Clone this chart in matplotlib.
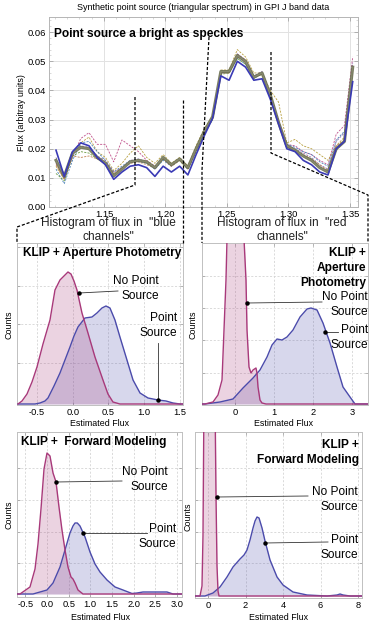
import numpy as np
import matplotlib.pyplot as plt
from matplotlib.lines import Line2D
from matplotlib.ticker import MultipleLocator, FormatStrFormatter

plt.rcParams['font.family'] = ['Liberation Sans', 'DejaVu Sans']
plt.rcParams['axes.unicode_minus'] = True

W, H = 374, 628

# ---- spectra (GPI J band channels) ----
wavelength = [1.1110, 1.1177, 1.1244, 1.1311, 1.1378, 1.1445, 1.1512, 1.1579, 1.1646,
              1.1713, 1.1780, 1.1847, 1.1914, 1.1981, 1.2048, 1.2115, 1.2182, 1.2249,
              1.2316, 1.2383, 1.2450, 1.2517, 1.2584, 1.2651, 1.2718, 1.2785, 1.2852,
              1.2919, 1.2986, 1.3053, 1.3120, 1.3187, 1.3254, 1.3321, 1.3388, 1.3455,
              1.3522]

true_flux = [0.0195, 0.0105, 0.019, 0.022, 0.021, 0.017, 0.0145, 0.0095, 0.012, 0.014,
             0.0145, 0.0135, 0.0105, 0.014, 0.012, 0.014, 0.011, 0.018, 0.0245, 0.0305,
             0.045, 0.0435, 0.050, 0.048, 0.0435, 0.044, 0.037, 0.0285, 0.020, 0.019,
             0.016, 0.0145, 0.012, 0.011, 0.020, 0.0225, 0.043]

mean_flux = [0.016, 0.0105, 0.0185, 0.0205, 0.020, 0.017, 0.015, 0.0107, 0.013, 0.0155,
             0.016, 0.0155, 0.0135, 0.017, 0.0145, 0.0165, 0.0135, 0.020, 0.026, 0.031,
             0.0465, 0.0465, 0.052, 0.050, 0.0445, 0.046, 0.0385, 0.029, 0.021, 0.0195,
             0.0175, 0.016, 0.0135, 0.012, 0.020, 0.0225, 0.048]

flux_magenta = [0.015, 0.010, 0.017, 0.0235, 0.0255, 0.0215, 0.0215, 0.0155, 0.023, 0.021,
                0.019, 0.016, 0.014, 0.0165, 0.0145, 0.016, 0.014, 0.020, 0.026, 0.030,
                0.046, 0.046, 0.0525, 0.0505, 0.045, 0.0455, 0.039, 0.030, 0.0215, 0.021,
                0.019, 0.018, 0.016, 0.0145, 0.025, 0.028, 0.0515]
flux_olive = [0.014, 0.0095, 0.018, 0.022, 0.024, 0.019, 0.017, 0.0125, 0.015, 0.0185,
              0.021, 0.017, 0.015, 0.018, 0.015, 0.017, 0.014, 0.021, 0.027, 0.031,
              0.047, 0.047, 0.054, 0.0515, 0.046, 0.046, 0.040, 0.036, 0.022, 0.0232,
              0.021, 0.020, 0.018, 0.016, 0.021, 0.024, 0.049]
flux_teal = [0.013, 0.008, 0.016, 0.022, 0.0225, 0.019, 0.016, 0.012, 0.014, 0.016,
             0.0155, 0.015, 0.013, 0.016, 0.014, 0.016, 0.013, 0.019, 0.025, 0.030,
             0.046, 0.046, 0.051, 0.049, 0.044, 0.046, 0.038, 0.029, 0.0215, 0.0205,
             0.019, 0.018, 0.0155, 0.014, 0.023, 0.026, 0.046]
flux_green = [0.0115, 0.009, 0.0175, 0.019, 0.0185, 0.0165, 0.015, 0.011, 0.0135, 0.0155,
              0.016, 0.015, 0.0135, 0.0165, 0.0145, 0.016, 0.013, 0.0195, 0.025, 0.030,
              0.0455, 0.046, 0.051, 0.049, 0.0445, 0.0455, 0.038, 0.0285, 0.0205, 0.0195,
              0.0175, 0.0165, 0.0135, 0.012, 0.0195, 0.0225, 0.047]
flux_purple = [0.017, 0.0095, 0.0185, 0.021, 0.0205, 0.0175, 0.016, 0.012, 0.0135, 0.016,
               0.0165, 0.0155, 0.013, 0.0165, 0.014, 0.0165, 0.0135, 0.020, 0.026, 0.0305,
               0.046, 0.0465, 0.0525, 0.050, 0.045, 0.0465, 0.039, 0.0295, 0.0215, 0.020,
               0.0185, 0.017, 0.0145, 0.013, 0.0225, 0.0255, 0.0495]
flux_orange = [0.0145, 0.0095, 0.0175, 0.017, 0.0175, 0.0165, 0.0155, 0.0115, 0.0135, 0.015,
               0.0155, 0.0145, 0.0135, 0.0165, 0.014, 0.016, 0.013, 0.0195, 0.0255, 0.0305,
               0.046, 0.046, 0.0515, 0.0495, 0.0445, 0.0455, 0.038, 0.0285, 0.0205, 0.0195,
               0.018, 0.0165, 0.0145, 0.0125, 0.021, 0.023, 0.047]

dashed_series = [(flux_magenta, '#c0508a'), (flux_olive, '#b8a040'), (flux_teal, '#4a82b8'),
                 (flux_green, '#6a9a40'), (flux_purple, '#8a70b0'), (flux_orange, '#c08050')]

# ---- flux distributions (counts, arbitrary units) ----
# KLIP + aperture photometry, blue channels
ap_blue_x_nops = [-0.766, -0.710, -0.640, -0.570, -0.500, -0.416, -0.318, -0.248, -0.178,
                  -0.108, -0.066, -0.024, 0.018, 0.060, 0.130, 0.214, 0.312, 0.424, 0.494,
                  0.564, 0.662, 1.545]
ap_blue_y_nops = [0, 3, 10, 22, 37, 60, 84, 114, 124, 129, 132, 130, 123, 114, 91, 71, 47,
                  24, 10, 2, 0, 0]
ap_blue_x_ps = [-0.766, -0.528, -0.458, -0.388, -0.346, -0.262, -0.178, -0.108, -0.038,
                0.018, 0.074, 0.172, 0.270, 0.340, 0.410, 0.466, 0.522, 0.592, 0.662, 0.760,
                0.845, 0.943, 1.055, 1.195, 1.307, 1.405, 1.503, 1.545]
ap_blue_y_ps = [0, 0, 1, 3, 6, 18, 31, 44, 57, 68, 77, 86, 87, 91, 96, 98, 96, 84, 67, 44,
                24, 11, 6, 4, 3, 1, 0, 0]

# KLIP + aperture photometry, red channels
ap_red_x_nops = [-0.846, -0.769, -0.564, -0.436, -0.333, -0.282, -0.231, -0.205, -0.103,
                 0.0, 0.128, 0.231, 0.282, 0.308, 0.359, 0.410, 0.462, 0.538, 0.564, 0.590,
                 0.641, 0.692, 0.795, 3.410]
ap_red_y_nops = [0, 0, 2, 9, 24, 74, 124, 165, 235, 262, 235, 165, 124, 74, 37, 31, 34, 36,
                 31, 17, 4, 1, 0, 0]
ap_red_x_ps = [-0.846, -0.769, -0.385, -0.051, 0.205, 0.462, 0.641, 0.821, 0.949, 1.077,
               1.205, 1.333, 1.487, 1.667, 1.846, 1.949, 2.103, 2.256, 2.436, 2.615, 2.769,
               2.949, 3.077, 3.410]
ap_red_y_ps = [0, 0, 2, 5, 16, 26, 34, 47, 59, 65, 64, 67, 74, 87, 95, 96, 94, 81, 61, 37,
               17, 7, 0, 0]

# KLIP + forward modeling, blue channels
fm_blue_x_nops = [-0.693, -0.624, -0.393, -0.277, -0.208, -0.139, -0.069, 0.0, 0.069,
                  0.139, 0.208, 0.277, 0.346, 0.416, 0.485, 0.554, 0.600, 0.647, 0.716,
                  0.831, 3.118]
fm_blue_y_nops = [0, 0, 7, 25, 50, 85, 125, 141, 138, 121, 112, 87, 64, 44, 27, 17, 15, 11,
                  4, 0, 0]
fm_blue_x_ps = [-0.693, -0.323, 0.0, 0.139, 0.300, 0.416, 0.531, 0.600, 0.647, 0.700,
                0.762, 0.878, 0.993, 1.109, 1.224, 1.386, 1.571, 1.755, 1.963, 2.079,
                2.217, 2.448, 2.610, 2.771, 2.910, 3.118]
fm_blue_y_ps = [0, 0, 4, 11, 27, 44, 61, 68, 71, 71, 68, 57, 42, 30, 22, 14, 7, 4, 0.5, 1,
                2, 2, 2, 2, 0, 0]

# KLIP + forward modeling, red channels
fm_red_x_nops = [-0.693, -0.427, -0.320, -0.267, -0.213, -0.107, 0.080, 0.267, 0.373,
                 0.427, 0.480, 0.533, 0.587, 8.21]
fm_red_y_nops = [0, 0, 10, 60, 200, 380, 420, 380, 200, 100, 30, 5, 0, 0]
fm_red_x_ps = [-0.693, -0.160, 0.267, 0.640, 1.013, 1.333, 1.707, 1.920, 2.080, 2.240,
               2.400, 2.507, 2.613, 2.720, 2.880, 3.040, 3.307, 3.680, 4.000, 4.533, 5.280,
               6.347, 6.880, 7.040, 7.200, 7.573, 8.21]
fm_red_y_ps = [0, 0, 3, 9, 19, 29, 37, 41, 46, 56, 68, 75, 79, 78, 68, 55, 36, 19, 11, 4, 1,
               0, 1, 2, 1, 0, 0]

c_nops = '#a8397a'
c_ps = '#4b4bab'


def fx(px):
    return px / W


def fy(py):
    return 1 - py / H


def box(l, t, r, b):
    return [fx(l), fy(b), (r - l) / W, (b - t) / H]


fig = plt.figure(figsize=(W / 100, H / 100), dpi=100)

# ---- top spectrum panel ----
ax = fig.add_axes(box(49, 17, 358, 207))
for vals, col in dashed_series:
    ax.plot(wavelength, vals, color=col, lw=0.6, dashes=(2.5, 1.5), zorder=2)
ax.plot(wavelength, mean_flux, color='#6b7050', lw=2.2, alpha=0.9, zorder=3)
ax.plot(wavelength, mean_flux, color='#888a70', lw=0.8, zorder=3)
ax.plot(wavelength, true_flux, color='#3a3ab5', lw=1.2, zorder=4)
ax.set_xlim(1.1053, 1.3565)
ax.set_ylim(0, 0.0652)
ax.set_xticks([1.15, 1.20, 1.25, 1.30, 1.35])
ax.set_yticks([0, 0.01, 0.02, 0.03, 0.04, 0.05, 0.06])
ax.xaxis.set_major_formatter(FormatStrFormatter('%.2f'))
ax.yaxis.set_major_formatter(FormatStrFormatter('%.2f'))
ax.xaxis.set_minor_locator(MultipleLocator(0.01))
ax.yaxis.set_minor_locator(MultipleLocator(0.002))
ax.grid(True, color='#e2e2e2', lw=0.7, zorder=0)
ax.set_axisbelow(True)
ax.tick_params(direction='in', labelsize=6.8, length=3, width=0.5, color='#999999',
               pad=2, top=True, right=True)
ax.tick_params(which='minor', direction='in', length=1.5, width=0.4, color='#bbbbbb',
               top=True, right=True)
for s in ax.spines.values():
    s.set_color('#b5b5b5')
    s.set_linewidth(0.7)

fig.text(fx(203), fy(8), 'Synthetic point source (triangular spectrum) in GPI J band data',
         ha='center', va='center', fontsize=6.5)
fig.text(fx(22), fy(113), 'Flux (arbitray units)', rotation=90, ha='center',
         va='center', fontsize=6.4)
fig.text(fx(54), fy(34), 'Point source a bright as speckles', ha='left', va='center',
         fontsize=8.6, fontweight='bold')

fig.text(fx(108), fy(230), 'Histogram of flux in  "blue\nchannels"', ha='center',
         va='center', fontsize=8.6, multialignment='center', linespacing=1.15,
         color='#222222')
fig.text(fx(282), fy(230), 'Histogram of flux in  "red\nchannels"', ha='center',
         va='center', fontsize=8.6, multialignment='center', linespacing=1.15,
         color='#222222')

# ---- distribution panels ----
panels = [
    ((17, 243, 183, 405), (-0.78, 1.545), (-1, 161), [-0.5, 0.0, 0.5, 1.0, 1.5], '%.1f',
     [41, 80, 118, 157], ap_blue_x_nops, ap_blue_y_nops, ap_blue_x_ps, ap_blue_y_ps),
    ((202, 243, 368, 405), (-0.846, 3.41), (-1, 161), [0, 1, 2, 3], '%d',
     [31, 64, 96, 128], ap_red_x_nops, ap_red_y_nops, ap_red_x_ps, ap_red_y_ps),
    ((17, 432, 182, 597), (-0.693, 3.118), (-3, 162), [-0.5, 0, 0.5, 1.0, 1.5, 2.0, 2.5, 3.0],
     '%.1f', [31, 62, 94, 126], fm_blue_x_nops, fm_blue_y_nops, fm_blue_x_ps, fm_blue_y_ps),
    ((195, 432, 362, 598), (-0.693, 8.21), (-2, 164), [0, 2, 4, 6, 8], '%d',
     [33, 64, 96, 128], fm_red_x_nops, fm_red_y_nops, fm_red_x_ps, fm_red_y_ps),
]

for (bx, xl, yl, xt, fmt, yg, xn, yn, xp, yp) in panels:
    a = fig.add_axes(box(*bx))
    a.fill_between(xp, yp, 0, color=c_ps, alpha=0.22, lw=0, zorder=2)
    a.fill_between(xn, yn, 0, color=c_nops, alpha=0.22, lw=0, zorder=2)
    a.plot(xp, yp, color=c_ps, lw=1.0, zorder=3)
    a.plot(xn, yn, color=c_nops, lw=1.0, zorder=3)
    a.set_xlim(*xl)
    a.set_ylim(*yl)
    a.set_xticks(xt)
    a.xaxis.set_major_formatter(FormatStrFormatter(fmt))
    a.set_yticks(yg)
    a.set_yticklabels([])
    a.grid(True, color='#d5d5d5', lw=0.6, ls=(0, (2.5, 2)), zorder=0)
    a.tick_params(direction='in', labelsize=6.7, length=2.5, width=0.5, color='#999999',
                  pad=2, top=True, right=True)
    for s in a.spines.values():
        s.set_color('#c0c0c0')
        s.set_linewidth(0.7)

# axis labels of the panels
for (x, y) in [(100, 424), (284, 424), (101, 617), (279, 618)]:
    fig.text(fx(x), fy(y), 'Estimated Flux', ha='center', va='center', fontsize=6.4)
for (x, y) in [(9, 325), (193, 325), (9, 515), (188, 517)]:
    fig.text(fx(x), fy(y), 'Counts', rotation=90, ha='center', va='center', fontsize=6.4)

# panel titles
bold = dict(fontsize=8.6, fontweight='bold', va='center', linespacing=1.3)
fig.text(fx(23), fy(253), 'KLIP + Aperture Photometry', ha='left', **bold)
fig.text(fx(366), fy(268), 'KLIP +\nAperture\nPhotometry', ha='right',
         multialignment='right', **bold)
fig.text(fx(21), fy(442), 'KLIP +  Forward Modeling', ha='left', **bold)
fig.text(fx(359), fy(452.5), 'KLIP +\nForward Modeling', ha='right',
         multialignment='right', **bold)

# labels with callouts: (text, right x, center y, line start, line end)
labels = [
    ('No Point\nSource', 159, 288.5, (79, 293), (118, 291)),
    ('Point\nSource', 177, 325.5, (158, 400), (158, 343)),
    ('No Point\nSource', 368, 304.5, (247, 303), (322, 302)),
    ('Point\nSource', 368, 337.5, (325, 332), (338, 332)),
    ('No Point\nSource', 168, 479.5, (56, 482), (122, 481)),
    ('Point\nSource', 176, 536.5, (83, 533), (147, 533)),
    ('No Point\nSource', 358, 499.5, (217, 497), (308, 496)),
    ('Point\nSource', 358, 547.5, (265, 543), (328, 542)),
]
for txt, rx, cy, p0, p1 in labels:
    fig.text(fx(rx), fy(cy), txt, ha='right', va='center', multialignment='right',
             fontsize=8.6, linespacing=1.3)
    fig.add_artist(Line2D([fx(p0[0]), fx(p1[0])], [fy(p0[1]), fy(p1[1])], color='#333333',
                          lw=0.6, zorder=10))
    fig.add_artist(Line2D([fx(p0[0])], [fy(p0[1])], marker='o', ms=2.2, color='black',
                          zorder=11))

# dashed connectors between spectrum and histograms
connectors = [
    [(135, 97), (135, 185), (17, 227), (17, 243)],
    [(183, 100), (183, 243)],
    [(209, 37), (202, 170), (202, 243)],
    [(271, 52), (271, 153), (368, 195), (368, 243)],
]
for pts in connectors:
    xs = [fx(p[0]) for p in pts]
    ys = [fy(p[1]) for p in pts]
    fig.add_artist(Line2D(xs, ys, color='black', lw=0.9, dashes=(2.5, 1.5), zorder=12))

fig.savefig('out.png', dpi=100)
